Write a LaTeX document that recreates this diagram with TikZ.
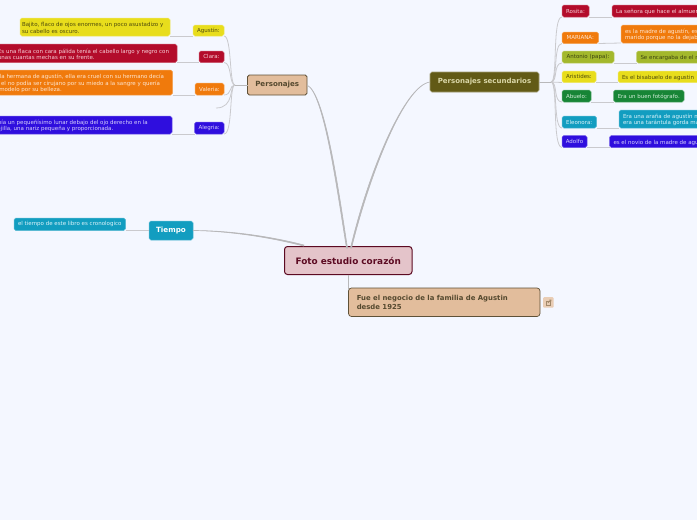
\documentclass[tikz,border=0pt]{standalone}
\usepackage{fontspec}
\setmainfont{DejaVu Sans}
\definecolor{bgc}{HTML}{F4F7FF}
\definecolor{yel}{HTML}{E8DD1C}\definecolor{yeltx}{HTML}{4E4B0C}
\definecolor{red}{HTML}{B30C2B}\definecolor{redtx}{HTML}{F6D0D8}
\definecolor{ora}{HTML}{F07A0C}\definecolor{oratx}{HTML}{FDE6D2}
\definecolor{blu}{HTML}{2F0EDE}\definecolor{blutx}{HTML}{D6D0FA}
\definecolor{oli}{HTML}{A3B82C}\definecolor{olitx}{HTML}{3C4410}
\definecolor{grn}{HTML}{178536}\definecolor{grntx}{HTML}{D2ECD8}
\definecolor{tea}{HTML}{129DC0}\definecolor{teatx}{HTML}{DCF3FA}
\definecolor{drk}{HTML}{625A16}\definecolor{drktx}{HTML}{DAD7A8}
\definecolor{tan}{HTML}{E2BD9C}\definecolor{tantx}{HTML}{55492F}\definecolor{tanbd}{HTML}{5F5138}
\definecolor{pnk}{HTML}{E4C4CA}\definecolor{pnktx}{HTML}{5C0A22}
\definecolor{lnk}{HTML}{CACACE}\definecolor{lnkb}{HTML}{B8B8BA}
\newcommand{\tsz}{\fontsize{5.5}{6.2}\selectfont}
\newcommand{\tb}[2]{\parbox{#1}{\vspace*{2pt}\tsz #2}}
\tikzset{
  x=1pt,y=-1pt,
  boxb/.style n args={4}{anchor=north west,rounded corners=1.8pt,inner sep=0pt,outer sep=0pt,
     fill=#1,text=#2,minimum width=#3,minimum height=#4,draw=#1!70!white,line width=.5pt},
  lab/.style={font=\tsz,align=center},
  thin link/.style={draw=lnk,line width=.8pt},
  main link/.style={draw=lnkb,line width=1pt},
  taper/.style={fill=lnkb,draw=lnkb,line width=.6pt},
}
\begin{document}
\begin{tikzpicture}
\useasboundingbox (0,0) rectangle (697,520);
\clip (0,0) rectangle (697,520);
\fill[bgc] (0,0) rectangle (697,520);

\coordinate (rla) at (346.5,248);
\coordinate (rlb) at (347.5,248);
\coordinate (rsa) at (350.5,248);
\coordinate (rsb) at (351.5,248);
\coordinate (rta) at (304,245);
\coordinate (rtb) at (303.5,246);
\coordinate (hl) at (235,85);
\coordinate (hr) at (551,82);
\coordinate (vacio) at (216,108);
\coordinate (fj) at (348.5,290);

% central and main nodes
\node[boxb={pnk}{pnktx}{127.5pt}{28pt},draw=pnktx,line width=1pt,rounded corners=3pt,font=\bfseries\fontsize{8.9}{10}\selectfont] (root) at (284.5,246.5) {Foto estudio corazón};
\node[boxb={tan}{tantx}{59.5pt}{20pt},draw=tanbd,line width=.8pt,font=\bfseries\fontsize{7.1}{8}\selectfont] (pers) at (247.5,75) {Personajes};
\node[boxb={drk}{drktx}{109pt}{20pt},draw=drk!60!white,line width=.6pt,font=\bfseries\fontsize{7}{8}\selectfont] (sec) at (430,72) {Personajes secundarios};
\node[boxb={tea}{white}{44pt}{19pt},font=\bfseries\fontsize{7.2}{8}\selectfont] (tiempo) at (149,221) {Tiempo};
\node[boxb={tan}{tantx}{191.5pt}{28.5pt},draw=tanbd,line width=.7pt,rounded corners=3pt,font=\bfseries\fontsize{6.9}{9}\selectfont] (fue) at (348.5,288)
  {\parbox{175pt}{Fue el negocio de la familia de Agustin\\desde 1925}};
\node[boxb={tea}{teatx}{111.5pt}{12.5pt},lab] (tiempot) at (14,218) {el tiempo de este libro es cronologico};

% left labels
\node[boxb={yel}{yeltx}{31pt}{11pt},lab] (agu) at (193,25) {Agustín:};
\node[boxb={red}{redtx}{25pt}{11.5pt},lab] (cla) at (199,51) {Clara:};
\node[boxb={ora}{oratx}{29pt}{12pt},lab] (val) at (195,83) {Valeria:};
\node[boxb={blu}{blutx}{29.5pt}{12pt},lab] (ale) at (194.5,122) {Alegria:};
% left texts
\node[boxb={yel}{yeltx}{150pt}{18pt}] (agut) at (20,18) {\tb{146pt}{Bajito, flaco de ojos enormes, un poco asustadizo y\\su cabello es oscuro.}};
\node[boxb={red}{redtx}{182pt}{18.5pt}] (clat) at (-5,44) {\tb{176pt}{Es una flaca con cara pálida tenía el cabello largo y negro con\\unas cuantas mechas en su frente.}};
\node[boxb={ora}{oratx}{186.5pt}{25pt}] (valt) at (-14,70) {\tb{180.5pt}{Era la hermana de agustín, ella era cruel con su hermano decía\\que el no podía ser cirujano por su miedo a la sangre y quería\\ser modelo por su belleza.}};
\node[boxb={blu}{blutx}{183pt}{18pt}] (alet) at (-11,116) {\tb{177pt}{Tenía un pequeñísimo lunar debajo del ojo derecho en la\\mejilla, una nariz pequeña y proporcionada.}};

% right labels
\node[boxb={red}{redtx}{27pt}{12pt},lab] (ros) at (562,5) {Rosita:};
\node[boxb={ora}{oratx}{36.5pt}{11.5pt},lab] (mar) at (562,32) {MARIANA:};
\node[boxb={oli}{olitx}{52pt}{12pt},lab] (ant) at (562,51) {Antonio (papa):};
\node[boxb={yel}{yeltx}{34pt}{11.5pt},lab] (ari) at (562,71) {Aristides:};
\node[boxb={grn}{grntx}{29pt}{12pt},lab] (abu) at (562,90) {Abuelo:};
\node[boxb={tea}{teatx}{34.5pt}{12pt},lab] (ele) at (562,116) {Eleonora:};
\node[boxb={blu}{blutx}{25pt}{12pt},lab] (ado) at (562,135.5) {Adolfo};
% right texts
\node[boxb={red}{redtx}{110pt}{12pt}] (rost) at (612,5) {\tb{102pt}{La señora que hace el almuerzo}};
\node[boxb={ora}{oratx}{110pt}{18pt}] (mart) at (621,25) {\tb{102pt}{es la madre de agustín, es\\marido porque no la dejaba}};
\node[boxb={oli}{olitx}{110pt}{12pt}] (antt) at (636.5,51) {\tb{102pt}{Se encargaba de el negocio}};
\node[boxb={yel}{yeltx}{110pt}{11.5pt}] (arit) at (618,71) {\tb{102pt}{Es el bisabuelo de agustin}};
\node[boxb={grn}{grntx}{70.5pt}{12pt}] (abut) at (613.5,90) {\tb{62pt}{Era un buen fotógrafo.}};
\node[boxb={tea}{teatx}{110pt}{18pt}] (elet) at (619,110) {\tb{102pt}{Era una araña de agustín m\\era una tarántula gorda ma}};
\node[boxb={blu}{blutx}{130pt}{12pt}] (adot) at (609.5,135.5) {\tb{122pt}{es el novio de la madre de agustín}};

% icon
\node[rounded corners=1pt,fill=tan!75!white,anchor=north west,minimum width=10.5pt,minimum height=10.5pt,inner sep=0pt] (icono) at (543,297) {};
\draw[tantx!45!tan,line width=.6pt] (icono.center) ++(-2.5,-1.5) rectangle ++(4.5,4.5);
\draw[tantx!45!tan,line width=.6pt] (icono.center) ++(-.5,.5) -- ++(3,-3) ++(-1.5,0) -- ++(1.5,0) -- ++(0,1.5);

% main connectors (slightly tapered towards the root)
\path[taper] (pers.east) .. controls (324,93) and (337,190) .. (rla) -- (rlb) .. controls (338.5,190) and (325,93) .. (pers.east) -- cycle;
\path[taper] (sec.west) .. controls (405,85) and (369,170) .. (rsa) -- (rsb) .. controls (371,170) and (405,85.5) .. (sec.west) -- cycle;
\path[taper] (tiempo.east) .. controls (225,230.5) and (265,235) .. (rta) -- (rtb) .. controls (265,236) and (225,231) .. (tiempo.east) -- cycle;
\path[main link] (root.south -| fj) -- (fj);
\path[thin link] (tiempot.south east) -- (tiempo.west |- tiempot.south);

% left tree
\path[main link,line width=.8pt] (pers.west) -- (hl);
\path[thin link] (hl) .. controls (229,85) and (232,36) .. (agu.south east);
\path[thin link] (hl) .. controls (229,85) and (232,62.5) .. (cla.south east);
\path[thin link] (hl) .. controls (229,85) and (232,95) .. (val.south east);
\path[thin link] (hl) .. controls (229,85) and (235,108) .. (vacio);
\path[thin link] (hl) .. controls (229,85) and (233,134) .. (ale.south east);
\path[thin link] (agut.south east) -- (agu.south west);
\path[thin link] (clat.south east) -- (cla.south west);
\path[thin link] (valt.south east) -- (val.south west);
\path[thin link] (alet.south east) -- (ale.south west);

% right tree
\path[main link,line width=.8pt] (sec.east) -- (hr);
\path[thin link] (hr) .. controls (558,82) and (552,17) .. (ros.south west);
\path[thin link] (hr) .. controls (558,82) and (553,43.5) .. (mar.south west);
\path[thin link] (hr) .. controls (558,82) and (553,63) .. (ant.south west);
\path[thin link] (hr) -- (ari.south west);
\path[thin link] (hr) .. controls (558,82) and (553,102) .. (abu.south west);
\path[thin link] (hr) .. controls (558,82) and (553,128) .. (ele.south west);
\path[thin link] (hr) .. controls (558,82) and (552,147) .. (ado.south west);
\path[thin link] (ros.south east) -- (rost.south west);
\path[thin link] (mar.south east) -- (mart.south west);
\path[thin link] (ant.south east) -- (antt.south west);
\path[thin link] (ari.south east) -- (arit.south west);
\path[thin link] (abu.south east) -- (abut.south west);
\path[thin link] (ele.south east) -- (elet.south west);
\path[thin link] (ado.south east) -- (adot.south west);
\end{tikzpicture}
\end{document}
